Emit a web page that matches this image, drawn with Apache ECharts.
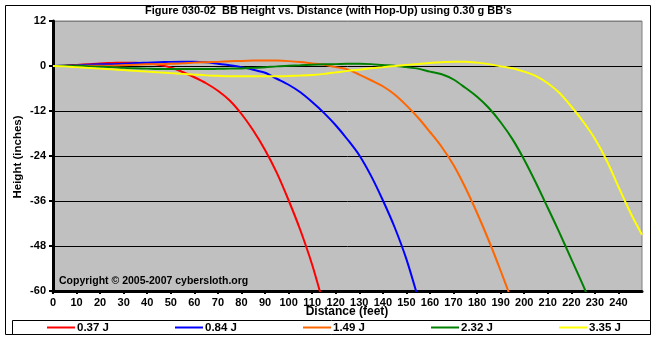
<!DOCTYPE html>
<html>
<head>
<meta charset="utf-8">
<script src="https://cdn.jsdelivr.net/npm/echarts@6/dist/echarts.min.js"></script>
<style>
  html, body { margin: 0; padding: 0; background: #fff; }
  #chart { width: 657px; height: 340px; }
</style>
</head>
<body>
<div id="chart"></div>
<script>
// Trajectories of a 0.30 g BB fired with hop-up, sampled every 5 feet
const distanceFt = [0, 5, 10, 15, 20, 25, 30, 35, 40, 45, 50, 55, 60, 65, 70, 75, 80, 85, 90, 95,
  100, 105, 110, 115, 120, 125, 130, 135, 140, 145, 150, 155, 160, 165, 170, 175, 180, 185, 190, 195,
  200, 205, 210, 215, 220, 225, 230, 235, 240, 245, 250];

const seriesNames = ['0.37 J', '0.84 J', '1.49 J', '2.32 J', '3.35 J'];

// Height in inches at each distance
const height037 = [0, 0.1, 0.3, 0.5, 0.7, 0.8, 0.9, 0.9, 0.7, 0.3, -0.4, -1.6, -3.0, -4.6, -6.6, -9.2,
  -12.8, -17.2, -22.4, -28.5, -35.8, -43.8, -53, -64];
const height084 = [0, 0.1, 0.2, 0.35, 0.45, 0.5, 0.6, 0.8, 0.9, 1.0, 1.1, 1.15, 1.15, 1.0, 0.6, 0.2,
  -0.3, -1.0, -1.8, -3.4, -5.0, -7.0, -9.6, -12.5, -15.8, -19.6, -23.8, -29.3, -35.8, -43, -51.5, -62];
const height149 = [0, 0, 0.05, 0.1, 0.1, 0.1, 0.2, 0.35, 0.45, 0.5, 0.6, 0.7, 0.9, 1.0, 1.1, 1.25,
  1.35, 1.45, 1.5, 1.45, 1.3, 1.05, 0.7, 0.35, -0.3, -0.9, -2.3, -3.8, -5.4, -7.6, -10.5, -13.8,
  -17.6, -21.6, -26.4, -32.4, -39.2, -46.6, -54.6, -63];
const height232 = [0, 0.1, 0.1, -0.1, -0.2, -0.3, -0.5, -0.6, -0.7, -0.8, -0.8, -0.8, -0.8, -0.8,
  -0.75, -0.7, -0.65, -0.5, -0.35, -0.1, 0.05, 0.2, 0.35, 0.45, 0.5, 0.6, 0.6, 0.5, 0.25, 0.05,
  -0.3, -0.7, -1.5, -2.2, -3.6, -5.8, -8.2, -11.2, -15, -19.5, -25, -31.2, -37.8, -44.5, -51.5,
  -58.5, -66];
const height335 = [0, -0.1, -0.3, -0.5, -0.7, -0.9, -1.1, -1.3, -1.5, -1.7, -1.9, -2.1, -2.3, -2.5,
  -2.6, -2.7, -2.7, -2.7, -2.7, -2.7, -2.65, -2.55, -2.4, -2.1, -1.7, -1.3, -1.0, -0.6, -0.3, 0,
  0.3, 0.55, 0.8, 1.0, 1.15, 1.15, 0.9, 0.5, -0.1, -0.6, -1.5, -2.7, -4.6, -7.2, -10.8, -14.8,
  -19.4, -25.2, -32.2, -39, -45];

const heights = [height037, height084, height149, height232, height335];
const lineColors = ['#ff0000', '#0000ff', '#ff6600', '#008000', '#ffff00'];

const FONT = 'Arial, "Liberation Sans", sans-serif';

const chart = echarts.init(document.getElementById('chart'), null, { renderer: 'canvas' });

const series = heights.map((h, i) => ({
  name: seriesNames[i],
  type: 'line',
  data: h.map((v, j) => [distanceFt[j], v]),
  symbol: 'none',
  smooth: 0.3,
  clip: true,
  lineStyle: { color: lineColors[i], width: 2 },
  itemStyle: { color: lineColors[i] },
  emphasis: { disabled: true },
  z: 3 + i
}));

// one legend block per series, evenly spaced along the bottom box
const legendLeft = [47, 175, 303, 431, 559];
const legends = seriesNames.map((n, i) => ({
  data: [{ name: n, icon: 'rect' }],
  left: legendLeft[i],
  top: 321.5,
  itemWidth: 28,
  itemHeight: 2,
  itemGap: 0,
  padding: 0,
  selectedMode: false,
  textStyle: { fontFamily: FONT, fontWeight: 'bold', fontSize: 11.5, color: '#000', padding: [0, 0, 0, -3] }
}));

chart.setOption({
  animation: false,
  backgroundColor: '#ffffff',
  title: {
    text: "Figure 030-02  BB Height vs. Distance (with Hop-Up) using 0.30 g BB's",
    left: 'center',
    top: 5,
    padding: 0,
    textStyle: { fontFamily: FONT, fontWeight: 'bold', fontSize: 11, color: '#000' }
  },
  legend: legends,
  grid: {
    left: 53, right: 15, top: 21, bottom: 49,
    show: true,
    backgroundColor: '#c0c0c0',
    borderColor: '#808080',
    borderWidth: 1
  },
  xAxis: {
    type: 'value',
    min: 0, max: 250, interval: 10,
    axisLine: { show: true, onZero: false, lineStyle: { color: '#000', width: 3 } },
    axisTick: { show: true, length: 3, lineStyle: { color: '#000', width: 2 } },
    axisLabel: {
      showMaxLabel: false, margin: 6,
      fontFamily: FONT, fontWeight: 'bold', fontSize: 11, color: '#000'
    },
    splitLine: { show: false }
  },
  yAxis: {
    type: 'value',
    min: -60, max: 12, interval: 12,
    axisLine: { show: true, onZero: false, lineStyle: { color: '#000', width: 3 } },
    axisTick: { show: true, length: 4, lineStyle: { color: '#000', width: 2 } },
    axisLabel: { margin: 7, fontFamily: FONT, fontWeight: 'bold', fontSize: 11, color: '#000' },
    splitLine: {
      show: true,
      lineStyle: { color: ['#000', '#000', '#000', '#000', '#000', '#000', '#808080'], width: 1 }
    }
  },
  graphic: [
    {
      type: 'rect', z: -10, silent: true,
      shape: { x: 5.5, y: 5.5, width: 645, height: 329 },
      style: { fill: '#fff', stroke: '#000', lineWidth: 1 }
    },
    {
      type: 'rect', z: -5, silent: true,
      shape: { x: 12.5, y: 320.5, width: 638, height: 14 },
      style: { fill: '#fff', stroke: '#000', lineWidth: 1 }
    },
    {
      type: 'text', silent: true, z: 10,
      left: 59, top: 276,
      style: { text: 'Copyright \u00a9 2005-2007 cybersloth.org', font: 'bold 10.5px ' + FONT, fill: '#000' }
    },
    {
      type: 'text', silent: true, z: 10,
      x: 347, y: 312,
      style: { text: 'Distance (feet)', font: 'bold 12px ' + FONT, fill: '#000', align: 'center', verticalAlign: 'middle' }
    },
    {
      type: 'text', silent: true, z: 10,
      x: 18, y: 157, rotation: Math.PI / 2,
      style: { text: 'Height (inches)', font: 'bold 11.5px ' + FONT, fill: '#000', align: 'center', verticalAlign: 'middle' }
    }
  ],
  series: series
});
</script>
</body>
</html>
